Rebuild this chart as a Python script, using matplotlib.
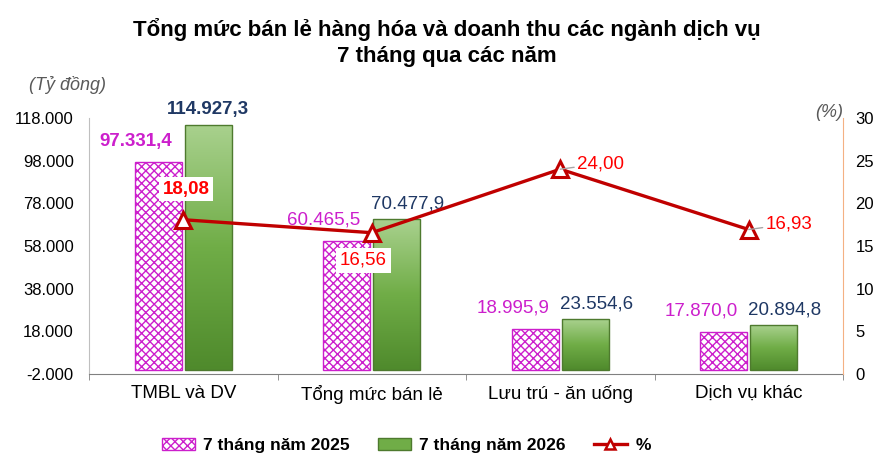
import numpy as np
import matplotlib
matplotlib.use("Agg")
import matplotlib.pyplot as plt
from matplotlib.patches import Patch
from matplotlib.lines import Line2D
from matplotlib.ticker import FuncFormatter, FixedLocator

plt.rcParams["font.family"] = ["Liberation Sans", "DejaVu Sans"]

categories = ["TMBL và DV", "Tổng mức bán lẻ", "Lưu trú - ăn uống", "Dịch vụ khác"]
values_2025 = [97331.4, 60465.5, 18995.9, 17870.0]
values_2026 = [114927.3, 70477.9, 23554.6, 20894.8]
growth_pct = [18.08, 16.56, 24.00, 16.93]
labels_2025 = ["97.331,4", "60.465,5", "18.995,9", "17.870,0"]
labels_2026 = ["114.927,3", "70.477,9", "23.554,6", "20.894,8"]
labels_pct = ["18,08", "16,56", "24,00", "16,93"]

PINK = "#cc1fcc"
NAVY = "#1f3864"
RED = "#c00000"
LABEL_RED = "#ff0000"

fig = plt.figure(figsize=(8.93, 4.73), dpi=100)
ax = fig.add_axes([0.0997, 0.2093, 0.8443, 0.5412])
ax2 = ax.twinx()

x = np.arange(len(categories))
w = 0.25
off = 0.133

bars_a = ax.bar(x - off, values_2025, w, color="white", edgecolor=PINK,
                hatch="xxxx", linewidth=1.0, zorder=2)
bars_b = ax.bar(x + off, values_2026, w, color="none", edgecolor="#4e7a2e",
                linewidth=1.0, zorder=3)

# vertical gradient for the green bars (light on top)
grad = np.linspace(0, 1, 256).reshape(-1, 1)
cmap = matplotlib.colors.LinearSegmentedColormap.from_list("g", ["#a9d18e", "#70ad47", "#4f8a2c"])
for b in bars_b:
    x0, y0 = b.get_x(), b.get_y()
    im = ax.imshow(grad, extent=[x0, x0 + b.get_width(), y0, y0 + b.get_height()],
                   cmap=cmap, aspect="auto", zorder=2.5, origin="upper")
    im.set_clip_path(b)

ax.set_xlim(-0.5, len(categories) - 0.5)
ax.set_ylim(-2000, 118000)
ax.set_yticks(np.arange(-2000, 118001, 20000))
ax.yaxis.set_major_formatter(FuncFormatter(lambda v, p: f"{int(v):,}".replace(",", ".")))
ax.set_xticks(x)
ax.set_xticklabels(categories, fontsize=13.5)
ax.xaxis.set_minor_locator(FixedLocator(np.arange(-0.5, len(categories), 1.0)))
ax.tick_params(axis="x", which="major", length=0, pad=8)
ax.tick_params(axis="x", which="minor", length=4, color="#808080")
ax.tick_params(axis="y", length=0, labelsize=12, pad=11)

for s in ["top", "right"]:
    ax.spines[s].set_visible(False)
ax.spines["left"].set_color("#bfbfbf")
ax.spines["bottom"].set_color("#808080")

ax2.plot(x, growth_pct, color=RED, linewidth=2.4, marker="^", markersize=11,
         markerfacecolor="white", markeredgecolor=RED, markeredgewidth=2.2, zorder=5)
ax2.set_ylim(0, 30)
ax2.set_yticks(np.arange(0, 31, 5))
ax2.tick_params(axis="y", length=0, labelsize=12, pad=9)
for s in ["top", "left", "bottom"]:
    ax2.spines[s].set_visible(False)
ax2.spines["right"].set_color("#f4b183")

# bar labels
for i in range(len(categories)):
    bold = i == 0
    ax.annotate(labels_2025[i], (x[i] - off + w / 2, values_2025[i]), xytext=(-7, 9),
                textcoords="offset points", ha="right", va="bottom", color=PINK,
                fontsize=13.5, fontweight="bold" if bold else "normal", zorder=4)
    ax.annotate(labels_2026[i], (x[i] + off, values_2026[i]), xytext=(0 if bold else 8, 5),
                textcoords="offset points", ha="center", va="bottom", color=NAVY,
                fontsize=13.5, fontweight="bold" if bold else "normal", zorder=4)

# percent labels
box = dict(boxstyle="square,pad=0.2", facecolor="white", edgecolor="none")
ax2.annotate(labels_pct[0], (x[0], growth_pct[0]), xytext=(2, 22), textcoords="offset points",
             ha="center", va="center", color=LABEL_RED, fontsize=13.5, fontweight="bold",
             bbox=box, zorder=6)
ax2.annotate(labels_pct[1], (x[1], growth_pct[1]), xytext=(-6, -20), textcoords="offset points",
             ha="center", va="center", color=LABEL_RED, fontsize=13.5, bbox=box, zorder=6)
for i in (2, 3):
    ax2.annotate(labels_pct[i], (x[i], growth_pct[i]), xytext=(12, 4), textcoords="offset points",
                 ha="left", va="center", color=LABEL_RED, fontsize=13.5, zorder=6,
                 arrowprops=dict(arrowstyle="-", color="#a6a6a6", lw=1, shrinkA=0, shrinkB=0))

fig.text(0.5, 0.91, "Tổng mức bán lẻ hàng hóa và doanh thu các ngành dịch vụ\n7 tháng qua các năm",
         ha="center", va="center", fontsize=16, fontweight="bold", linespacing=1.3)
fig.text(0.076, 0.82, "(Tỷ đồng)", ha="center", va="center", fontsize=13,
         style="italic", color="#595959")
fig.text(0.928, 0.762, "(%)", ha="center", va="center", fontsize=13,
         style="italic", color="#595959")

handles = [
    Patch(facecolor="white", edgecolor=PINK, hatch="xxxx", label="7 tháng năm 2025"),
    Patch(facecolor="#70ad47", edgecolor="#4e7a2e", label="7 tháng năm 2026"),
    Line2D([0], [0], color=RED, lw=2.4, marker="^", markersize=7, markerfacecolor="white",
           markeredgecolor=RED, markeredgewidth=1.8, label="%"),
]
fig.legend(handles=handles, loc="center", bbox_to_anchor=(0.455, 0.058), ncol=3, frameon=False,
           prop={"size": 12.5, "weight": "bold"}, handlelength=1.9, handleheight=0.7,
           columnspacing=1.6, handletextpad=0.5)

fig.savefig("out.png", dpi=100)
